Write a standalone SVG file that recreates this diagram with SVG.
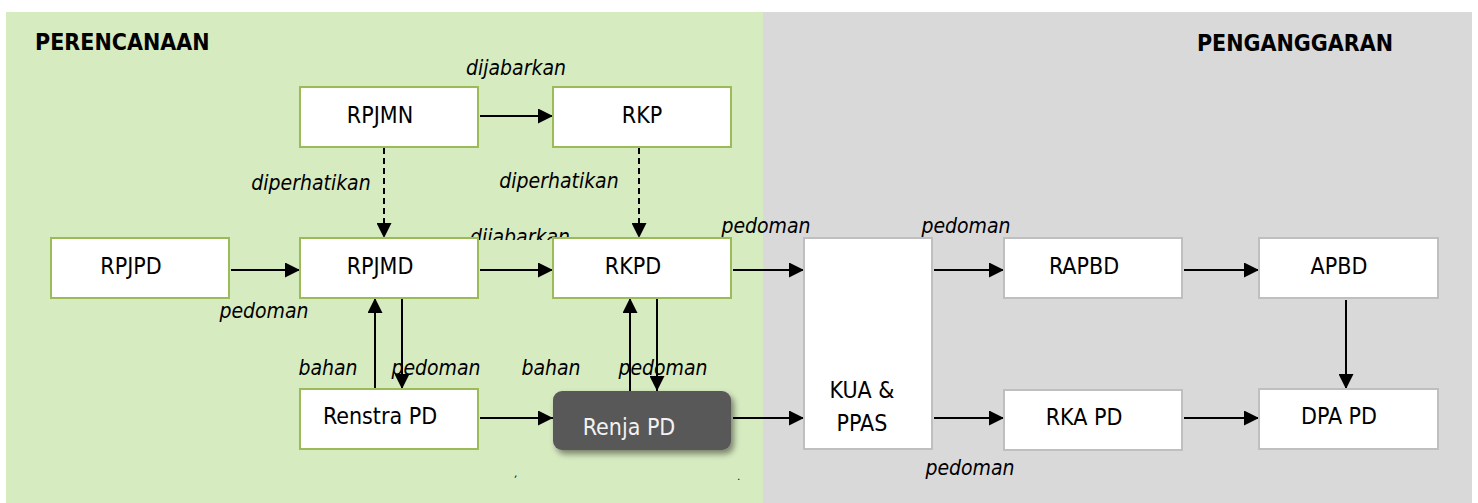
<svg xmlns="http://www.w3.org/2000/svg" width="1478" height="503" viewBox="0 0 1478 503">
<style>
.bgG{fill:#D7EBC1}
.bgP{fill:#D9D9D9}
.ng{fill:#FFFFFF;stroke:#9BBB59;stroke-width:2}
.np{fill:#FFFFFF;stroke:#BFBFBF;stroke-width:2}
.nt{font-family:"DejaVu Sans Condensed","DejaVu Sans",sans-serif;font-stretch:condensed;font-size:23px;fill:#000;text-anchor:middle}
.hd{font-family:"DejaVu Sans Condensed","DejaVu Sans",sans-serif;font-stretch:condensed;font-size:23px;font-weight:bold;fill:#000}
.lb{font-family:"DejaVu Sans Condensed","DejaVu Sans",sans-serif;font-stretch:condensed;font-size:21px;font-style:italic;fill:#000;text-anchor:middle}
.c{fill:none;stroke:#000;stroke-width:2;marker-end:url(#ah)}
.d{stroke-dasharray:6 4}
</style>
<defs>
<marker id="ah" markerUnits="userSpaceOnUse" markerWidth="15" markerHeight="15" refX="15" refY="7.5" orient="auto">
<path d="M0,0 L15,7.5 L0,15 Z" fill="#000"/>
</marker>
<clipPath id="clipMid"><rect x="440" y="215" width="160" height="25"/></clipPath>
<filter id="sh" x="-10%" y="-20%" width="130%" height="150%">
<feDropShadow dx="3" dy="4" stdDeviation="3" flood-color="#000" flood-opacity="0.45"/>
</filter>
</defs>

<rect class="bgG" x="6" y="12" width="757" height="491"/>
<rect class="bgP" x="763" y="12" width="709" height="491"/>

<text class="hd" x="35" y="50">PERENCANAAN</text>
<text class="hd" x="1295" y="51" text-anchor="middle">PENGANGGARAN</text>

<g id="labels">
<text class="lb" x="516" y="75">dijabarkan</text>
<text class="lb" x="311" y="190">diperhatikan</text>
<text class="lb" x="559" y="188">diperhatikan</text>
<text class="lb" x="520" y="244" clip-path="url(#clipMid)">dijabarkan</text>
<text class="lb" x="264" y="318">pedoman</text>
<text class="lb" x="766" y="233">pedoman</text>
<text class="lb" x="966" y="233">pedoman</text>
<text class="lb" x="970" y="475">pedoman</text>
<text class="lb" x="328" y="375">bahan</text>
<text class="lb" x="436" y="375">pedoman</text>
<text class="lb" x="551" y="375">bahan</text>
<text class="lb" x="663" y="375">pedoman</text>
<text class="lb" x="516" y="477" style="font-size:11px">,</text>
<text class="lb" x="739" y="480" style="font-size:11px">.</text>
</g>

<g id="connectors">
<path class="c" d="M480,116 H553"/>
<path class="c d" d="M384,148 V238"/>
<path class="c d" d="M639,148 V238"/>
<path class="c" d="M231,270 H300"/>
<path class="c" d="M480,270 H553"/>
<path class="c" d="M733,270 H804"/>
<path class="c" d="M934,270 H1004"/>
<path class="c" d="M1184,270 H1259"/>
<path class="c" d="M1346,300 V389"/>
<path class="c" d="M480,418 H553"/>
<path class="c" d="M733,418 H804"/>
<path class="c" d="M934,418 H1004"/>
<path class="c" d="M1184,418 H1259"/>
<path class="c" d="M375,389 V298"/>
<path class="c" d="M402,298 V389"/>
<path class="c" d="M630,391 V298"/>
<path class="c" d="M657,298 V391"/>
</g>

<g id="n-rpjmn"><rect class="ng" x="300" y="87" width="178" height="60"/><text class="nt" x="380" y="123">RPJMN</text></g>
<g id="n-rkp"><rect class="ng" x="553" y="87" width="178" height="60"/><text class="nt" x="642" y="123">RKP</text></g>
<g id="n-rpjpd"><rect class="ng" x="51" y="238" width="178" height="60"/><text class="nt" x="131" y="274">RPJPD</text></g>
<g id="n-rpjmd"><rect class="ng" x="300" y="238" width="178" height="60"/><text class="nt" x="380" y="274">RPJMD</text></g>
<g id="n-rkpd"><rect class="ng" x="553" y="238" width="178" height="60"/><text class="nt" x="633" y="274">RKPD</text></g>
<g id="n-kua"><rect class="np" x="804" y="238" width="128" height="211"/><text class="nt" x="862" y="398">KUA &amp;</text><text class="nt" x="862" y="431">PPAS</text></g>
<g id="n-rapbd"><rect class="np" x="1004" y="238" width="178" height="60"/><text class="nt" x="1084" y="274">RAPBD</text></g>
<g id="n-apbd"><rect class="np" x="1259" y="238" width="179" height="60"/><text class="nt" x="1339" y="274">APBD</text></g>
<g id="n-renstra"><rect class="ng" x="300" y="389" width="178" height="60"/><text class="nt" x="380" y="424">Renstra PD</text></g>
<g id="n-renja"><rect x="553" y="391" width="178" height="59" rx="9" fill="#595959" filter="url(#sh)"/><text class="nt" x="629" y="435" style="fill:#F2F2F2">Renja PD</text></g>
<g id="n-rka"><rect class="np" x="1004" y="390" width="178" height="60"/><text class="nt" x="1084" y="425">RKA PD</text></g>
<g id="n-dpa"><rect class="np" x="1259" y="389" width="179" height="60"/><text class="nt" x="1339" y="424">DPA PD</text></g>
</svg>
